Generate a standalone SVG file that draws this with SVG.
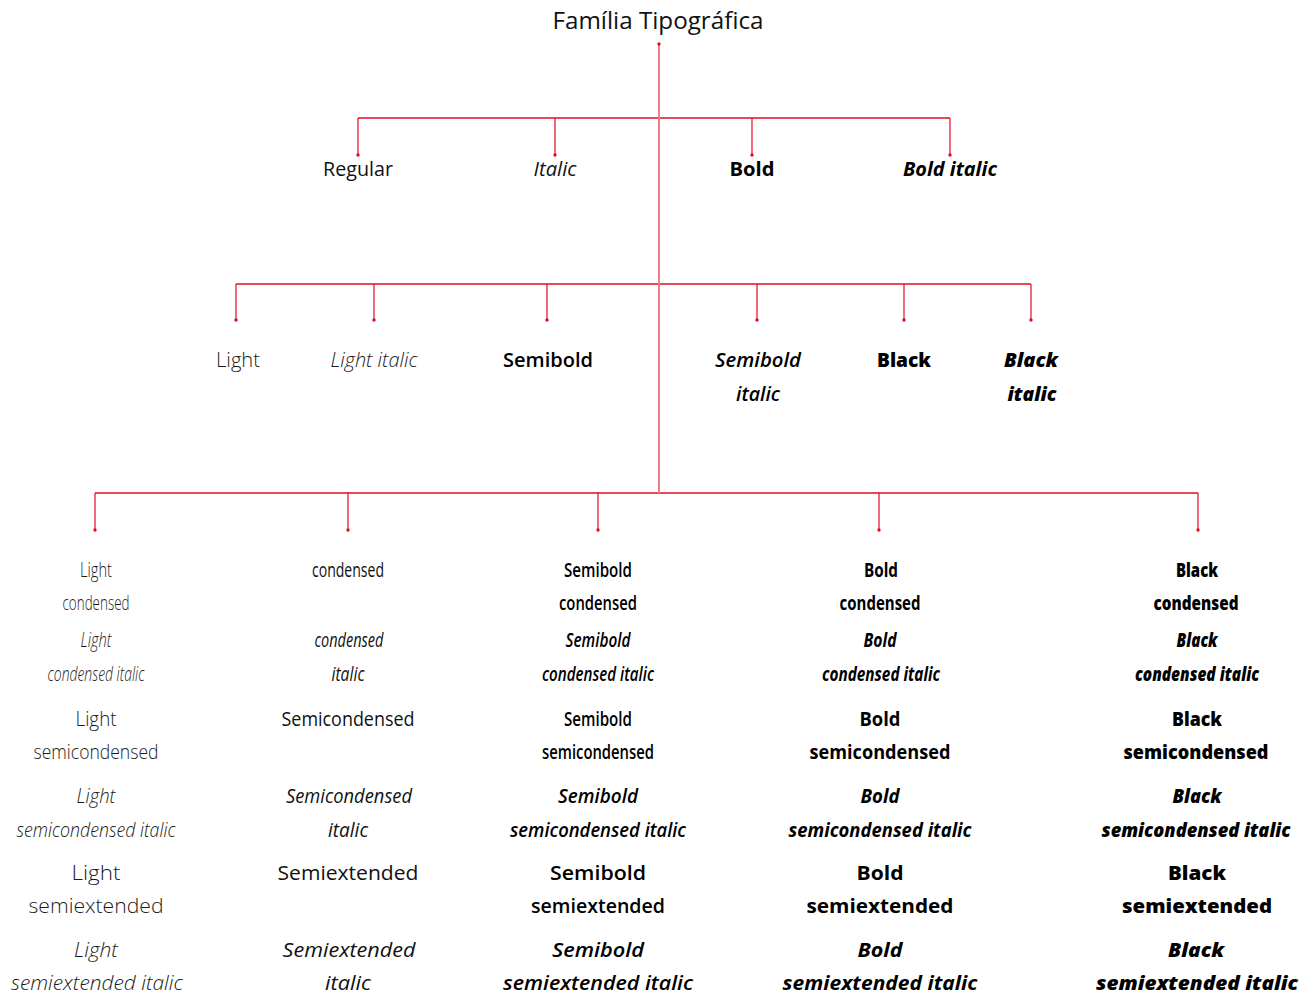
<svg xmlns="http://www.w3.org/2000/svg" width="1311" height="994" viewBox="0 0 1311 994">
<defs>
<marker id="dot" viewBox="0 0 4 4" refX="2" refY="2" markerWidth="4" markerHeight="4" markerUnits="userSpaceOnUse"><circle cx="2" cy="2" r="1.7" fill="#e30b20"/></marker>
<style>
text{font-family:"Open Sans","Noto Sans","Liberation Sans",sans-serif;font-size:20px;text-anchor:middle;fill:#111}
.t{font-size:24px;fill:#111}
.l{font-weight:300;fill:#1a1a1a}
.r{font-weight:400}
.s{font-weight:600;fill:#000}
.b{font-weight:700;fill:#000}
.k{font-weight:800;fill:#000}
.i{font-style:italic}
.trunk{stroke:#f07d8c;stroke-width:2;fill:none}
.bar{stroke:#e30b20;stroke-width:1.5;fill:none}
.drop{stroke:#e30b20;stroke-width:1.2;fill:none;marker-end:url(#dot)}
</style>
</defs>
<rect width="1311" height="994" fill="#fff"/>
<g id="connectors">
<path class="bar" d="M358 118H950M236 284H1031M95 493H1198"/>
<line class="trunk" x1="659" y1="44" x2="659" y2="493" marker-start="url(#dot)"/>
<path class="drop" d="M358 118V155"/><path class="drop" d="M555 118V155"/><path class="drop" d="M752 118V155"/><path class="drop" d="M950 118V155"/>
<path class="drop" d="M236 284V320"/><path class="drop" d="M374 284V320"/><path class="drop" d="M547 284V320"/><path class="drop" d="M757 284V320"/><path class="drop" d="M904 284V320"/><path class="drop" d="M1031 284V320"/>
<path class="drop" d="M95 493V530"/><path class="drop" d="M348 493V530"/><path class="drop" d="M598 493V530"/><path class="drop" d="M879 493V530"/><path class="drop" d="M1198 493V530"/>
</g>
<g id="title"><text class="t r" x="658" y="29" textLength="211" lengthAdjust="spacingAndGlyphs">Família Tipográfica</text></g>
<g id="regular"><text class="r" x="358" y="176" textLength="70" lengthAdjust="spacingAndGlyphs">Regular</text></g>
<g id="italic"><text class="r i" x="555" y="176" textLength="43" lengthAdjust="spacingAndGlyphs">Italic</text></g>
<g id="bold"><text class="b" x="752" y="176" textLength="45" lengthAdjust="spacingAndGlyphs">Bold</text></g>
<g id="bold-italic"><text class="b i" x="950" y="176" textLength="94" lengthAdjust="spacingAndGlyphs">Bold italic</text></g>
<g id="light"><text class="l" x="238" y="367" textLength="44" lengthAdjust="spacingAndGlyphs">Light</text></g>
<g id="light-italic"><text class="l i" x="374" y="367" textLength="87" lengthAdjust="spacingAndGlyphs">Light italic</text></g>
<g id="semibold"><text class="s" x="548" y="367" textLength="90" lengthAdjust="spacingAndGlyphs">Semibold</text></g>
<g id="semibold-italic"><text class="s i" x="758" y="367" textLength="86" lengthAdjust="spacingAndGlyphs">Semibold</text><text class="s i" x="758" y="401" textLength="44" lengthAdjust="spacingAndGlyphs">italic</text></g>
<g id="black"><text class="k" x="904" y="367" textLength="54" lengthAdjust="spacingAndGlyphs">Black</text></g>
<g id="black-italic"><text class="k i" x="1031" y="367" textLength="54" lengthAdjust="spacingAndGlyphs">Black</text><text class="k i" x="1032" y="401" textLength="49" lengthAdjust="spacingAndGlyphs">italic</text></g>
<g id="col-light">
<text class="l" x="96" y="577" textLength="32" lengthAdjust="spacingAndGlyphs">Light</text>
<text class="l" x="96" y="610" textLength="67" lengthAdjust="spacingAndGlyphs">condensed</text>
<text class="l i" x="96" y="647" textLength="31" lengthAdjust="spacingAndGlyphs">Light</text>
<text class="l i" x="96" y="681" textLength="97" lengthAdjust="spacingAndGlyphs">condensed italic</text>
<text class="l" x="96" y="726" textLength="41" lengthAdjust="spacingAndGlyphs">Light</text>
<text class="l" x="96" y="759" textLength="125" lengthAdjust="spacingAndGlyphs">semicondensed</text>
<text class="l i" x="96" y="803" textLength="39" lengthAdjust="spacingAndGlyphs">Light</text>
<text class="l i" x="96" y="837" textLength="159" lengthAdjust="spacingAndGlyphs">semicondensed italic</text>
<text class="l" x="96" y="880" textLength="49" lengthAdjust="spacingAndGlyphs">Light</text>
<text class="l" x="96" y="913" textLength="135" lengthAdjust="spacingAndGlyphs">semiextended</text>
<text class="l i" x="96" y="957" textLength="44" lengthAdjust="spacingAndGlyphs">Light</text>
<text class="l i" x="97" y="990" textLength="172" lengthAdjust="spacingAndGlyphs">semiextended italic</text>
</g>
<g id="col-regular">
<text class="r" x="348" y="577" textLength="72" lengthAdjust="spacingAndGlyphs">condensed</text>
<text class="r i" x="349" y="647" textLength="69" lengthAdjust="spacingAndGlyphs">condensed</text>
<text class="r i" x="348" y="681" textLength="33" lengthAdjust="spacingAndGlyphs">italic</text>
<text class="r" x="348" y="726" textLength="133" lengthAdjust="spacingAndGlyphs">Semicondensed</text>
<text class="r i" x="349" y="803" textLength="126" lengthAdjust="spacingAndGlyphs">Semicondensed</text>
<text class="r i" x="348" y="837" textLength="40" lengthAdjust="spacingAndGlyphs">italic</text>
<text class="r" x="348" y="880" textLength="141" lengthAdjust="spacingAndGlyphs">Semiextended</text>
<text class="r i" x="349" y="957" textLength="133" lengthAdjust="spacingAndGlyphs">Semiextended</text>
<text class="r i" x="348" y="990" textLength="46" lengthAdjust="spacingAndGlyphs">italic</text>
</g>
<g id="col-semibold">
<text class="s" x="598" y="577" textLength="68" lengthAdjust="spacingAndGlyphs">Semibold</text>
<text class="s" x="598" y="610" textLength="78" lengthAdjust="spacingAndGlyphs">condensed</text>
<text class="s i" x="598" y="647" textLength="65" lengthAdjust="spacingAndGlyphs">Semibold</text>
<text class="s i" x="598" y="681" textLength="112" lengthAdjust="spacingAndGlyphs">condensed italic</text>
<text class="s" x="598" y="726" textLength="68" lengthAdjust="spacingAndGlyphs">Semibold</text>
<text class="s" x="598" y="759" textLength="112" lengthAdjust="spacingAndGlyphs">semicondensed</text>
<text class="s i" x="598" y="803" textLength="80" lengthAdjust="spacingAndGlyphs">Semibold</text>
<text class="s i" x="598" y="837" textLength="176" lengthAdjust="spacingAndGlyphs">semicondensed italic</text>
<text class="s" x="598" y="880" textLength="96" lengthAdjust="spacingAndGlyphs">Semibold</text>
<text class="s" x="598" y="913" textLength="134" lengthAdjust="spacingAndGlyphs">semiextended</text>
<text class="s i" x="598" y="957" textLength="92" lengthAdjust="spacingAndGlyphs">Semibold</text>
<text class="s i" x="598" y="990" textLength="190" lengthAdjust="spacingAndGlyphs">semiextended italic</text>
</g>
<g id="col-bold">
<text class="b" x="881" y="577" textLength="34" lengthAdjust="spacingAndGlyphs">Bold</text>
<text class="b" x="880" y="610" textLength="81" lengthAdjust="spacingAndGlyphs">condensed</text>
<text class="b i" x="880" y="647" textLength="33" lengthAdjust="spacingAndGlyphs">Bold</text>
<text class="b i" x="881" y="681" textLength="118" lengthAdjust="spacingAndGlyphs">condensed italic</text>
<text class="b" x="880" y="726" textLength="41" lengthAdjust="spacingAndGlyphs">Bold</text>
<text class="b" x="880" y="759" textLength="141" lengthAdjust="spacingAndGlyphs">semicondensed</text>
<text class="b i" x="880" y="803" textLength="39" lengthAdjust="spacingAndGlyphs">Bold</text>
<text class="b i" x="880" y="837" textLength="183" lengthAdjust="spacingAndGlyphs">semicondensed italic</text>
<text class="b" x="880" y="880" textLength="47" lengthAdjust="spacingAndGlyphs">Bold</text>
<text class="b" x="880" y="913" textLength="147" lengthAdjust="spacingAndGlyphs">semiextended</text>
<text class="b i" x="880" y="957" textLength="45" lengthAdjust="spacingAndGlyphs">Bold</text>
<text class="b i" x="880" y="990" textLength="195" lengthAdjust="spacingAndGlyphs">semiextended italic</text>
</g>
<g id="col-black">
<text class="k" x="1197" y="577" textLength="42" lengthAdjust="spacingAndGlyphs">Black</text>
<text class="k" x="1196" y="610" textLength="85" lengthAdjust="spacingAndGlyphs">condensed</text>
<text class="k i" x="1197" y="647" textLength="41" lengthAdjust="spacingAndGlyphs">Black</text>
<text class="k i" x="1197" y="681" textLength="124" lengthAdjust="spacingAndGlyphs">condensed italic</text>
<text class="k" x="1197" y="726" textLength="50" lengthAdjust="spacingAndGlyphs">Black</text>
<text class="k" x="1196" y="759" textLength="145" lengthAdjust="spacingAndGlyphs">semicondensed</text>
<text class="k i" x="1197" y="803" textLength="49" lengthAdjust="spacingAndGlyphs">Black</text>
<text class="k i" x="1196" y="837" textLength="189" lengthAdjust="spacingAndGlyphs">semicondensed italic</text>
<text class="k" x="1197" y="880" textLength="58" lengthAdjust="spacingAndGlyphs">Black</text>
<text class="k" x="1197" y="913" textLength="150" lengthAdjust="spacingAndGlyphs">semiextended</text>
<text class="k i" x="1196" y="957" textLength="56" lengthAdjust="spacingAndGlyphs">Black</text>
<text class="k i" x="1197" y="990" textLength="202" lengthAdjust="spacingAndGlyphs">semiextended italic</text>
</g>
</svg>
